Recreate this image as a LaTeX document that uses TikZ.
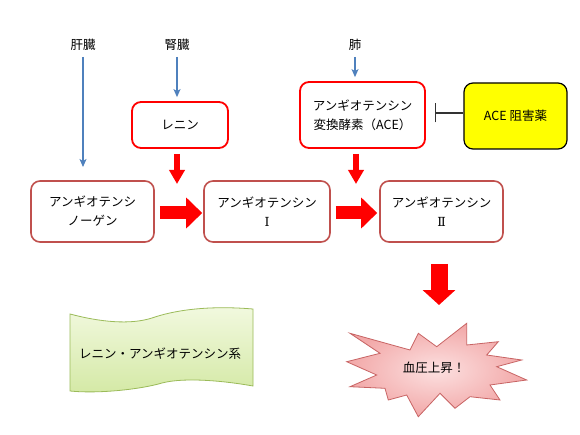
\documentclass[tikz,border=0pt]{standalone}
\usepackage{fontspec}
\setmainfont{Noto Sans CJK JP}
\newfontfamily\numfont{DejaVu Serif}
\usetikzlibrary{arrows.meta}
\definecolor{brightred}{RGB}{255,0,0}
\definecolor{mutedred}{RGB}{192,80,77}
\definecolor{bluearrow}{RGB}{79,129,189}
\definecolor{yellowbox}{RGB}{255,255,0}
\definecolor{greenborder}{RGB}{155,187,89}
\definecolor{greenlight}{RGB}{242,249,224}
\definecolor{greendark}{RGB}{212,233,165}
\definecolor{pinkin}{RGB}{252,224,224}
\definecolor{pinkout}{RGB}{242,168,168}
\definecolor{pinkborder}{RGB}{200,100,100}
\begin{document}
\begin{tikzpicture}[x=1pt,y=-1pt, font=\fontsize{12.5}{19}\selectfont,
 box/.style={draw, rounded corners=9pt, fill=white, align=center, inner sep=0pt},
 enzbox/.style={box, draw=brightred, line width=1.8pt},
 subbox/.style={box, draw=mutedred, line width=1.6pt, minimum height=61pt},
 organ/.style={inner sep=1pt},
 bluearr/.style={draw=bluearrow, line width=1.2pt, -{Stealth[length=8pt,width=7pt,inset=2pt]}},
 smallred/.style={draw=brightred, line width=6pt, -{Triangle[length=14pt,width=15pt]}},
 bigred/.style={draw=brightred, line width=13pt, -{Triangle[length=16pt,width=30pt]}},
 bigdown/.style={draw=brightred, line width=17pt, -{Triangle[length=15pt,width=32pt]}},
 inhib/.style={draw=black!80, line width=1.5pt, -{Bar[width=19pt]}},
 wave/.style={draw=greenborder, line width=0.8pt, top color=greenlight, bottom color=greendark},
 burst/.style={draw=pinkborder, line width=0.8pt, inner color=pinkin, outer color=pinkout}
]
\fill[white] (0,0) rectangle (580,435);
\useasboundingbox (0,0) rectangle (580,435);

% organ labels
\node[organ] (liver) at (83,45) {肝臓};
\node[organ] (kidney) at (177,45) {腎臓};
\node[organ] (lung) at (355,45) {肺};

% boxes
\node[enzbox, minimum width=96pt, minimum height=46pt] (renin) at (180,125) {レニン};
\node[enzbox, minimum width=125pt, minimum height=66pt] (ace) at (362.5,115) {アンギオテンシン\\変換酵素（ACE）};
\node[box, draw=black, line width=1.2pt, fill=yellowbox, minimum width=103pt, minimum height=66pt] (acei) at (515.5,116) {ACE 阻害薬};
\node[subbox, minimum width=123pt] (agn) at (92.5,211.5) {アンギオテンシ\\ノーゲン};
\node[subbox, minimum width=126pt] (ang1) at (267,211.5) {アンギオテンシン\\{\numfont Ⅰ}};
\node[subbox, minimum width=123pt] (ang2) at (441.5,211.5) {アンギオテンシン\\{\numfont Ⅱ}};

% free ends
\coordinate (liverEnd) at (83,167);
\coordinate (reninTip) at (177,184);
\coordinate (aceTip) at (356,184);
\coordinate (riseTip) at (439,305);

% blue arrows
\draw[bluearr, shorten <=5pt] (liver.south) -- (liverEnd);
\draw[bluearr, shorten <=5pt, shorten >=4pt] (kidney.south) -- (kidney.south |- renin.north);
\draw[bluearr, shorten <=5pt, shorten >=4pt] (lung.south) -- (lung.south |- ace.north);

% red arrows
\draw[smallred, shorten <=5pt] (reninTip |- renin.south) -- (reninTip);
\draw[smallred, shorten <=5pt] (aceTip |- ace.south) -- (aceTip);
\draw[bigred] ([xshift=5pt,yshift=-1.5pt]agn.east) -- ([xshift=-1pt,yshift=-1.5pt]ang1.west);
\draw[bigred] ([xshift=5pt,yshift=-1.5pt]ang1.east) -- ([xshift=-2pt,yshift=-1.5pt]ang2.west);
\draw[bigdown, shorten <=21pt] (riseTip |- ang2.south) -- (riseTip);

% inhibition
\draw[inhib, shorten >=9pt] ([yshift=3pt]acei.west) -- ([yshift=3pt]acei.west -| ace.east);

% wave banner
\path[wave] (70,314) .. controls (100,322) and (130,325) .. (152,318)
  .. controls (172,311) and (205,305) .. (253,309) -- (253,386)
  .. controls (225,381) and (185,377) .. (162,383)
  .. controls (142,389) and (100,394) .. (70,391) -- cycle;
\node (ras) at (160,354) {レニン・アンギオテンシン系};

% starburst
\path[burst] (350,333.3) -- (410,350) -- (418.3,333.3) -- (436.7,346.7) -- (466.7,323.3)
 -- (466.7,345) -- (498.3,341.7) -- (486.7,355) -- (521.7,360) -- (496.7,366.7)
 -- (526.7,380) -- (490,385) -- (500,400) -- (470,396.7) -- (455,408.3)
 -- (440,393.3) -- (418.3,416.7) -- (406.7,395) -- (388.3,400) -- (385,388.3)
 -- (350,386.7) -- (376.7,375) -- (346.7,361.7) -- (380,353.3) -- cycle;
\node (bp) at (434,368) {血圧上昇！};
\end{tikzpicture}
\end{document}
